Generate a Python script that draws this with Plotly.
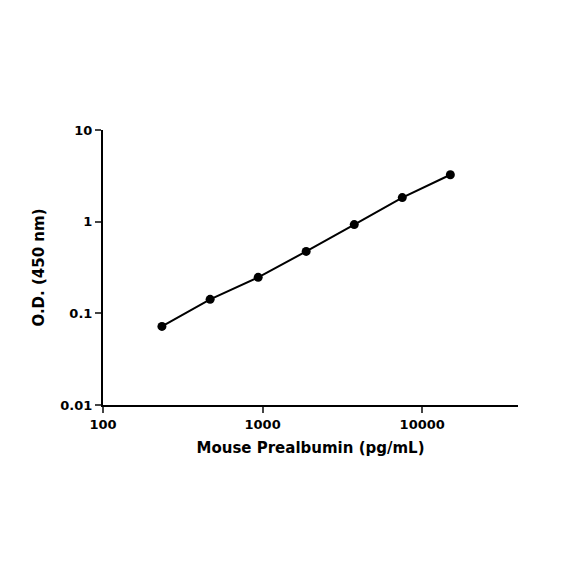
import plotly.graph_objects as go

conc = [234, 469, 938, 1875, 3750, 7500, 15000]
od = [0.072, 0.142, 0.247, 0.474, 0.93, 1.83, 3.25]
x_ticks = [100, 1000, 10000]
x_labels = ["<b>100</b>", "<b>1000</b>", "<b>10000</b>"]
y_ticks = [0.01, 0.1, 1, 10]
y_labels = ["<b>0.01</b>", "<b>0.1</b>", "<b>1</b>", "<b>10</b>"]

fig = go.Figure(go.Scatter(x=conc, y=od, mode="lines+markers",
    line=dict(color="black", width=2), marker=dict(color="black", size=9)))
font = dict(family="DejaVu Sans", color="black", size=13)
fig.update_layout(width=584, height=584, plot_bgcolor="white", paper_bgcolor="white",
    margin=dict(l=95, r=74, t=122, b=187), showlegend=False, font=font)
fig.update_xaxes(type="log", range=[2, 4.6], tickvals=x_ticks, ticktext=x_labels,
    ticks="outside", ticklen=6, tickwidth=2, showline=True, linecolor="black", linewidth=2,
    showgrid=False, zeroline=False, tickfont=dict(size=13, family="DejaVu Sans"),
    title=dict(text="<b>Mouse Prealbumin (pg/mL)</b>", font=dict(size=15), standoff=12))
fig.update_yaxes(type="log", range=[-2, 1], tickvals=y_ticks, ticktext=y_labels,
    ticks="outside", ticklen=6, tickwidth=2, showline=True, linecolor="black", linewidth=2,
    showgrid=False, zeroline=False, tickfont=dict(size=13, family="DejaVu Sans"),
    title=dict(text="<b>O.D. (450 nm)</b>", font=dict(size=15), standoff=12))
fig.write_html("out.html")
